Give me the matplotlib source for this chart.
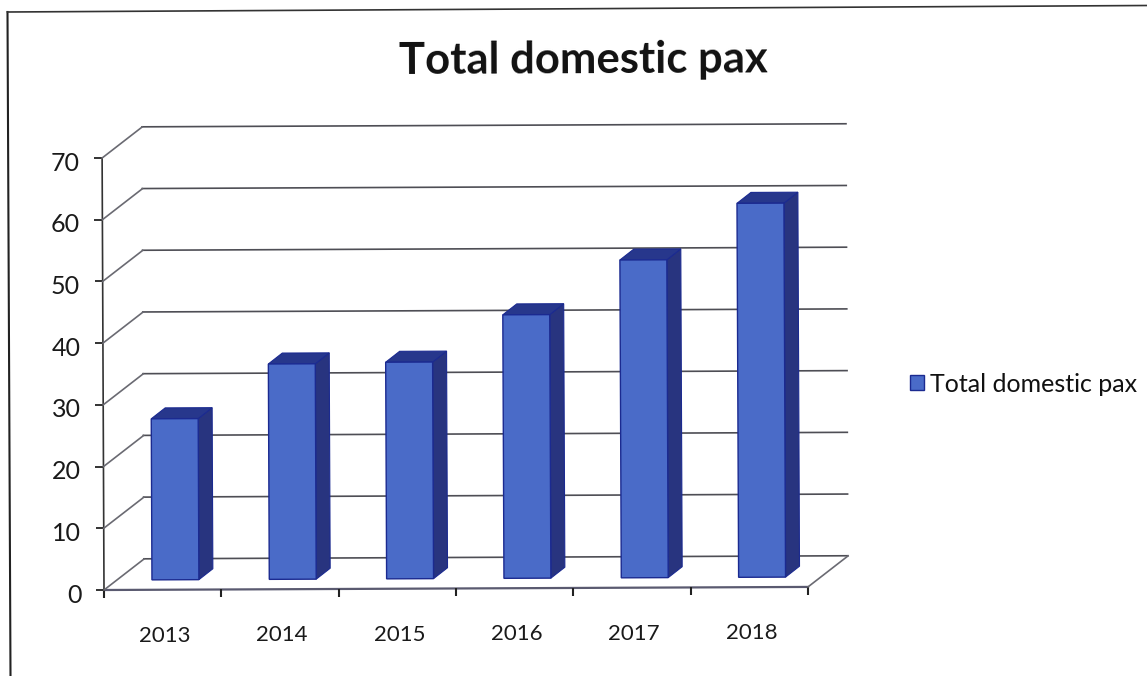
import matplotlib
matplotlib.use("Agg")
import matplotlib.pyplot as plt
from matplotlib.transforms import Affine2D
from matplotlib.lines import Line2D

years = ["2013", "2014", "2015", "2016", "2017", "2018"]
values = [26.1, 34.9, 35.1, 42.7, 51.5, 60.6]
y_ticks = [0, 10, 20, 30, 40, 50, 60, 70]
title = "Total domestic pax"
series_name = "Total domestic pax"

W, H = 1147, 676
FONT = "Lato"
FRONT, SIDE, TOP, EDGE = "#4A6BC8", "#28347F", "#27378C", "#1B2A90"
GRID = "#4E4E55"
DEPTH_X, DEPTH_Y = 40, 31
BAR_W = 0.4
BAR_NEAR, BAR_FAR = 0.32, 0.67

fig = plt.figure(figsize=(W / 100, H / 100), dpi=100, facecolor="white")
ax = fig.add_axes([104 / W, 86 / H, 704 / W, 432 / H])
ax.set_xlim(0, len(years))
ax.set_ylim(0, 70)
ax.patch.set_visible(False)
for s in ax.spines.values():
    s.set_visible(False)

rot = Affine2D().rotate_deg_around(104, 86, 0.25)


def plane(frac):
    return ax.transData + Affine2D().translate(DEPTH_X * frac, DEPTH_Y * frac) + rot


n = len(years)
# back-wall gridlines and their diagonals on the side wall
for v in y_ticks:
    ax.plot([0, n], [v, v], transform=plane(1), color=GRID, lw=1.2, clip_on=False, zorder=1)
    x0, y0 = (ax.transData + rot).transform((0, v))
    fig.add_artist(Line2D([x0, x0 + DEPTH_X], [y0, y0 + DEPTH_Y], transform=None,
                          color="#6A6A72", lw=1.2, zorder=1))

# floor
ax.plot([0, n], [0, 0], transform=plane(0), color="#5A5A70", lw=1.6, clip_on=False, zorder=1.5)
xr, yr = (ax.transData + rot).transform((n, 0))
fig.add_artist(Line2D([xr, xr + DEPTH_X], [yr, yr + DEPTH_Y], transform=None,
                      color="#6A6A72", lw=1.2, zorder=1))
# vertical axis
ax.plot([0, 0], [0, 70], transform=plane(0), color="#333333", lw=1.2, clip_on=False, zorder=2)

# bars
xs = [i + 0.5 for i in range(n)]
bars = ax.bar(xs, values, BAR_W, color=FRONT, edgecolor=EDGE, linewidth=1.0,
              transform=plane(BAR_NEAR), clip_on=False, zorder=4, label=series_name)
near = plane(BAR_NEAR)
far = plane(BAR_FAR)
for x, v in zip(xs, values):
    l, r = x - BAR_W / 2, x + BAR_W / 2
    pts_side = [near.transform((r, 0)), near.transform((r, v)), far.transform((r, v)), far.transform((r, 0))]
    pts_top = [near.transform((l, v)), near.transform((r, v)), far.transform((r, v)), far.transform((l, v))]
    for pts, col in ((pts_side, SIDE), (pts_top, TOP)):
        xx = [p[0] for p in pts]
        yy = [p[1] for p in pts]
        ax.fill(xx, yy, transform=None, facecolor=col, edgecolor=EDGE, lw=0.8, zorder=3, clip_on=False)

# ticks
ax.set_yticks(y_ticks)
ax.tick_params(axis="y", length=5.8, width=1.3, pad=10.5, labelsize=18, labelcolor="#1a1a1a", color="#222222")
ax.set_xticks(range(n + 1))
ax.set_xticklabels([""] * (n + 1))
ax.set_xticks(xs, minor=True)
ax.set_xticklabels(years, minor=True, fontsize=16, color="#1a1a1a")
ax.tick_params(axis="x", which="major", length=5.8, width=1.5, color="#222222")
ax.tick_params(axis="x", which="minor", length=0, pad=26)
for t in ax.xaxis.get_major_ticks() + ax.xaxis.get_minor_ticks():
    t.tick1line.set_transform(t.tick1line.get_transform() + rot)
    t.label1.set_transform(t.label1.get_transform() + Affine2D().translate(2, 0) + rot)
for t in ax.yaxis.get_major_ticks():
    t.tick1line.set_transform(t.tick1line.get_transform() + rot)
    t.label1.set_transform(t.label1.get_transform() + Affine2D().translate(0, -3) + rot)
for lab in ax.get_yticklabels() + ax.get_xticklabels(minor=True):
    lab.set_fontfamily(FONT)

# title and legend
fig.text(583 / W, 1 - 60 / H, title, ha="center", va="center", fontsize=31.4,
         fontweight="bold", family=FONT, color="#111111", rotation=0.25)
fig.legend(handles=[bars[0]], labels=[series_name], loc="center left",
           bbox_to_anchor=(887 / W, 1 - 384 / H), frameon=False,
           prop={"family": FONT, "size": 18}, handlelength=0.56, handleheight=0.56,
           handletextpad=0.28, labelcolor="#111111")

# outer frame of the scanned chart
fig.add_artist(Line2D([7.5, 10.5], [H - 12, 0], transform=None, color="#222222", lw=1.5))
fig.add_artist(Line2D([7.5, W], [H - 12, H - 5.5], transform=None, color="#333333", lw=1.2))

fig.savefig("out.png", dpi=100)
